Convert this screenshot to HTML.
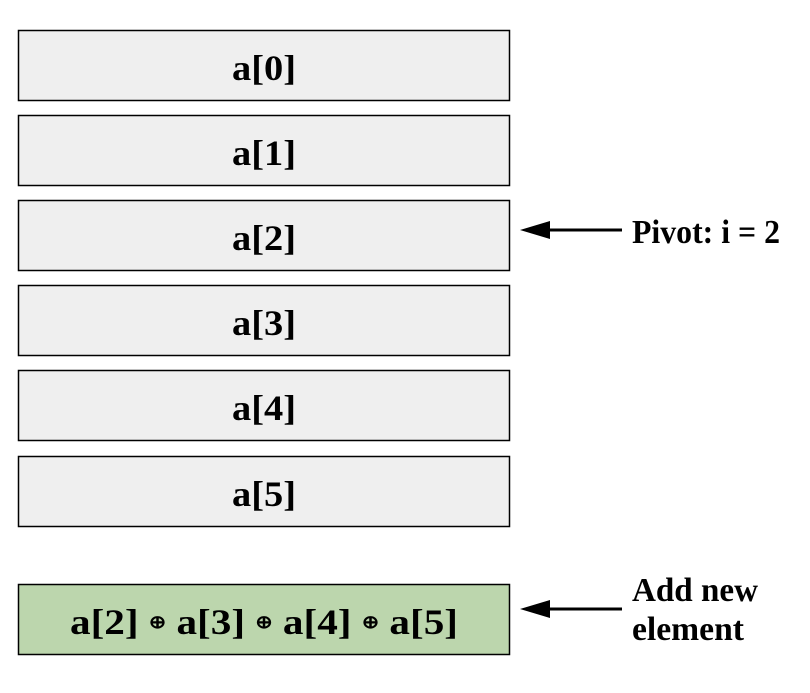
<!DOCTYPE html>
<html><head><meta charset="utf-8"><style>
html,body{margin:0;padding:0;background:#fff;width:810px;height:693px;overflow:hidden}
text{font-family:"Liberation Serif",serif;fill:#000}
</style></head><body>
<svg width="810" height="693" viewBox="0 0 810 693">
<g><rect x="18.5" y="30.5" width="491" height="70" fill="#efefef" stroke="#000" stroke-width="1.5"/><text x="264" y="80" font-size="36" font-weight="bold" text-anchor="middle" textLength="64" lengthAdjust="spacingAndGlyphs">a[0]</text></g>
<g><rect x="18.5" y="115.5" width="491" height="70" fill="#efefef" stroke="#000" stroke-width="1.5"/><text x="264" y="165" font-size="36" font-weight="bold" text-anchor="middle" textLength="64" lengthAdjust="spacingAndGlyphs">a[1]</text></g>
<g><rect x="18.5" y="200.5" width="491" height="70" fill="#efefef" stroke="#000" stroke-width="1.5"/><text x="264" y="250" font-size="36" font-weight="bold" text-anchor="middle" textLength="64" lengthAdjust="spacingAndGlyphs">a[2]</text></g>
<g><rect x="18.5" y="285.5" width="491" height="70" fill="#efefef" stroke="#000" stroke-width="1.5"/><text x="264" y="335" font-size="36" font-weight="bold" text-anchor="middle" textLength="64" lengthAdjust="spacingAndGlyphs">a[3]</text></g>
<g><rect x="18.5" y="370.5" width="491" height="70" fill="#efefef" stroke="#000" stroke-width="1.5"/><text x="264" y="420" font-size="36" font-weight="bold" text-anchor="middle" textLength="64" lengthAdjust="spacingAndGlyphs">a[4]</text></g>
<g><rect x="18.5" y="456.5" width="491" height="70" fill="#efefef" stroke="#000" stroke-width="1.5"/><text x="264" y="506" font-size="36" font-weight="bold" text-anchor="middle" textLength="64" lengthAdjust="spacingAndGlyphs">a[5]</text></g>
<g><rect x="18.5" y="584.5" width="491" height="70" fill="#bcd6ad" stroke="#000" stroke-width="1.5"/><text x="264" y="634" font-size="36" font-weight="bold" text-anchor="middle" textLength="388" lengthAdjust="spacingAndGlyphs">a[2] <tspan font-size="18" dy="-6">⊕</tspan><tspan dy="6"> a[3] </tspan><tspan font-size="18" dy="-6">⊕</tspan><tspan dy="6"> a[4] </tspan><tspan font-size="18" dy="-6">⊕</tspan><tspan dy="6"> a[5]</tspan></text></g>
<g><line x1="546" y1="230" x2="622" y2="230" stroke="#000" stroke-width="3"/><polygon points="520,230 550,221 550,239" fill="#000"/></g>
<text x="632" y="243" font-size="34" font-weight="bold" textLength="148" lengthAdjust="spacingAndGlyphs">Pivot: i = 2</text>
<g><line x1="546" y1="609" x2="622" y2="609" stroke="#000" stroke-width="3"/><polygon points="520,609 550,600 550,618" fill="#000"/></g>
<text font-size="34" font-weight="bold"><tspan x="632" y="601" textLength="126" lengthAdjust="spacingAndGlyphs">Add new</tspan><tspan x="632" y="640" textLength="112" lengthAdjust="spacingAndGlyphs">element</tspan></text>
</svg>
</body></html>
